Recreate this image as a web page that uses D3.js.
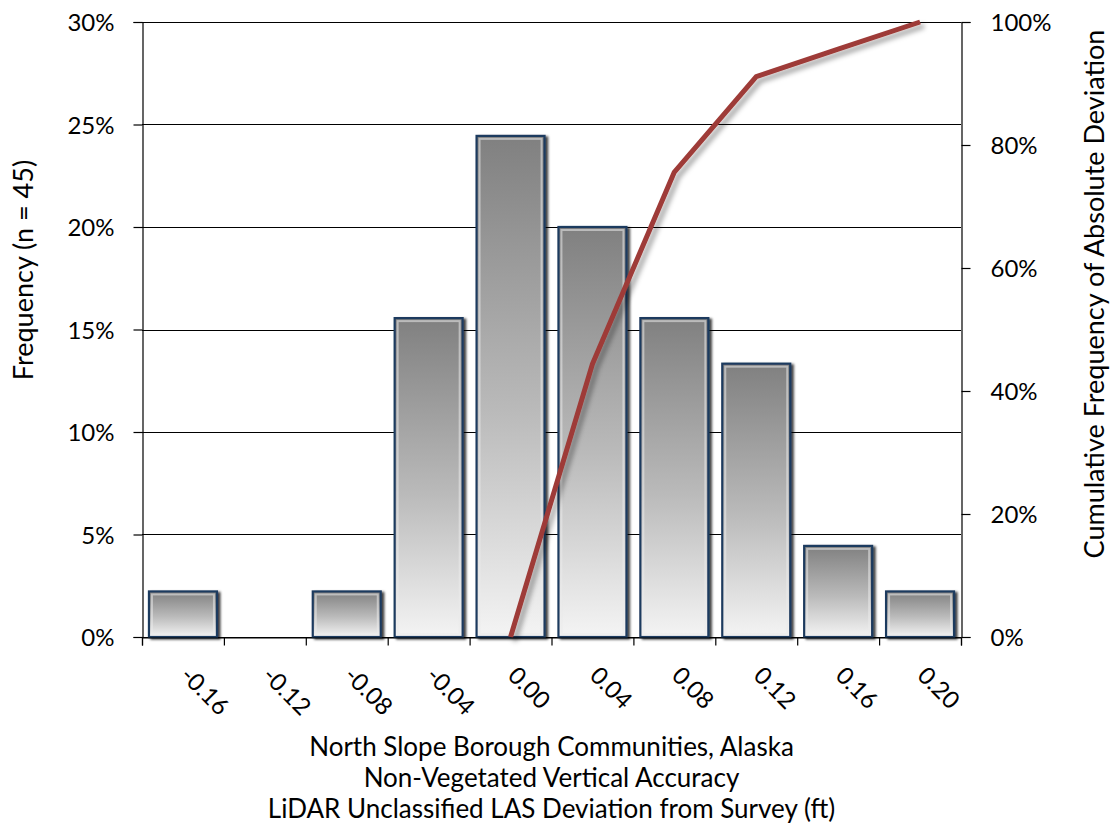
<!DOCTYPE html>
<html>
<head>
<meta charset="utf-8">
<script src="https://cdn.jsdelivr.net/npm/d3@7"></script>
<style>
  html, body { margin: 0; padding: 0; background: #fff; }
  svg { display: block; }
  text { font-family: Lato, "Open Sans", sans-serif; fill: #000; }
</style>
</head>
<body>
<svg id="chart" width="1114" height="830"></svg>
<script>
// Histogram bins (upper edge of each 0.04 ft bin)
const categories = ["-0.16", "-0.12", "-0.08", "-0.04", "0.00", "0.04", "0.08", "0.12", "0.16", "0.20"];
// Counts per bin, n = 45
const counts = [1, 0, 1, 7, 11, 9, 7, 6, 2, 1];
const n = 45;
const frequency = counts.map(c => c / n);
// Cumulative frequency of absolute deviation
const cumCategories = ["0.00", "0.04", "0.08", "0.12", "0.16", "0.20"];
const cumulative = [0, 0.444, 0.756, 0.911, 0.956, 1.0];
const leftTicks = [0, 0.05, 0.10, 0.15, 0.20, 0.25, 0.30];
const rightTicks = [0, 0.2, 0.4, 0.6, 0.8, 1.0];
const xTitleLines = [
  "North Slope Borough Communities, Alaska",
  "Non-Vegetated Vertical Accuracy",
  "LiDAR Unclassified LAS Deviation from Survey (ft)"
];

const L = 142, R = 961, T = 22, B = 637;
const svg = d3.select("#chart");
const defs = svg.append("defs");

const grad = defs.append("linearGradient").attr("id", "barGrad")
  .attr("x1", 0).attr("y1", 0).attr("x2", 0).attr("y2", 1);
grad.append("stop").attr("offset", "0%").attr("stop-color", "#808080");
grad.append("stop").attr("offset", "55%").attr("stop-color", "#bababa");
grad.append("stop").attr("offset", "100%").attr("stop-color", "#f4f4f4");

const barShadow = defs.append("filter").attr("id", "barShadow")
  .attr("x", "-20%").attr("y", "-20%").attr("width", "140%").attr("height", "140%");
barShadow.append("feDropShadow").attr("dx", 2.5).attr("dy", 1.5)
  .attr("stdDeviation", 1.2).attr("flood-color", "#000").attr("flood-opacity", 0.75);

const lineShadow = defs.append("filter").attr("id", "lineShadow")
  .attr("x", "-10%").attr("y", "-10%").attr("width", "120%").attr("height", "120%");
lineShadow.append("feDropShadow").attr("dx", 4).attr("dy", 4)
  .attr("stdDeviation", 2.5).attr("flood-color", "#000").attr("flood-opacity", 0.35);

const x = d3.scaleBand().domain(categories).range([L, R])
  .paddingInner(0.17).paddingOuter(0.085);
const xEdge = d3.scaleLinear().domain([0, categories.length]).range([L, R]);
const y = d3.scaleLinear().domain([0, 0.30]).range([B, T]);
const y2 = d3.scaleLinear().domain([0, 1]).range([B, T]);

// Horizontal gridlines
svg.append("g").selectAll("line").data(leftTicks).join("line")
  .attr("x1", L).attr("x2", R)
  .attr("y1", d => Math.round(y(d)) + 0.5).attr("y2", d => Math.round(y(d)) + 0.5)
  .attr("stroke", "#000").attr("stroke-width", 1);

// Bars
const bars = svg.append("g");
const nonZero = categories.map((c, i) => ({ c, v: frequency[i] })).filter(d => d.v > 0);
bars.selectAll("rect.bar").data(nonZero).join("rect")
  .attr("class", "bar")
  .attr("x", d => x(d.c)).attr("width", x.bandwidth())
  .attr("y", d => y(d.v)).attr("height", d => y(0) - y(d.v))
  .attr("fill", "url(#barGrad)")
  .attr("stroke", "#1f3a5e").attr("stroke-width", 2.2)
  .attr("filter", "url(#barShadow)");
// inner bevel highlight
bars.selectAll("rect.bevel").data(nonZero).join("rect")
  .attr("class", "bevel")
  .attr("x", d => x(d.c) + 3).attr("width", x.bandwidth() - 6)
  .attr("y", d => y(d.v) + 3).attr("height", d => Math.max(0, y(0) - y(d.v) - 6))
  .attr("fill", "none")
  .attr("stroke", "rgba(235,235,235,0.55)").attr("stroke-width", 2);

// Cumulative line
const line = d3.line()
  .x((d, i) => x(cumCategories[i]) + x.bandwidth() / 2)
  .y(d => y2(d));
svg.append("path").datum(cumulative)
  .attr("d", line)
  .attr("fill", "none").attr("stroke", "#9e3b37").attr("stroke-width", 5)
  .attr("stroke-linejoin", "round")
  .attr("filter", "url(#lineShadow)");

// Axes
const fmtPct = d3.format(".0%");
const leftAxis = svg.append("g").attr("transform", `translate(${L + 0.5},0)`)
  .call(d3.axisLeft(y).tickValues(leftTicks).tickFormat(fmtPct).tickSizeOuter(0).tickSize(9).tickPadding(19));
const rightAxis = svg.append("g").attr("transform", `translate(${R + 0.5},0)`)
  .call(d3.axisRight(y2).tickValues(rightTicks).tickFormat(fmtPct).tickSizeOuter(0).tickSize(9).tickPadding(20));
const bottomAxis = svg.append("g").attr("transform", `translate(0,${B + 0.5})`)
  .call(d3.axisBottom(xEdge).tickValues(d3.range(0, categories.length + 1))
    .tickFormat("").tickSizeOuter(0).tickSize(8));

[leftAxis, rightAxis, bottomAxis].forEach(g => {
  g.select(".domain").attr("stroke", "#000").attr("stroke-width", 1.2);
  g.selectAll(".tick line").attr("stroke", "#000").attr("stroke-width", 1.2);
  g.selectAll("text").attr("font-size", 24).attr("font-family", "Lato, 'Open Sans', sans-serif").attr("fill", "#000");
});
leftAxis.selectAll(".tick text").attr("dy", "0.36em");
rightAxis.selectAll(".tick text").attr("dy", "0.36em");

// Category labels rotated 45 degrees
svg.append("g").selectAll("text").data(categories).join("text")
  .attr("transform", d => `translate(${x(d) + x.bandwidth() / 2 + 2},${B + 34}) rotate(45)`)
  .attr("text-anchor", "start")
  .attr("dy", "0.35em")
  .attr("font-size", 24)
  .text(d => d);

// Axis titles
svg.append("text")
  .attr("transform", `translate(33,270) rotate(-90)`)
  .attr("text-anchor", "middle").attr("font-size", 27)
  .text("Frequency (n = 45)");
svg.append("text")
  .attr("transform", `translate(1104,294) rotate(-90)`)
  .attr("text-anchor", "middle").attr("font-size", 27)
  .text("Cumulative Frequency of Absolute Deviation");
svg.append("g").selectAll("text").data(xTitleLines).join("text")
  .attr("x", (L + R) / 2).attr("y", (d, i) => 756 + i * 31)
  .attr("text-anchor", "middle").attr("font-size", 26)
  .text(d => d);
</script>
</body>
</html>
